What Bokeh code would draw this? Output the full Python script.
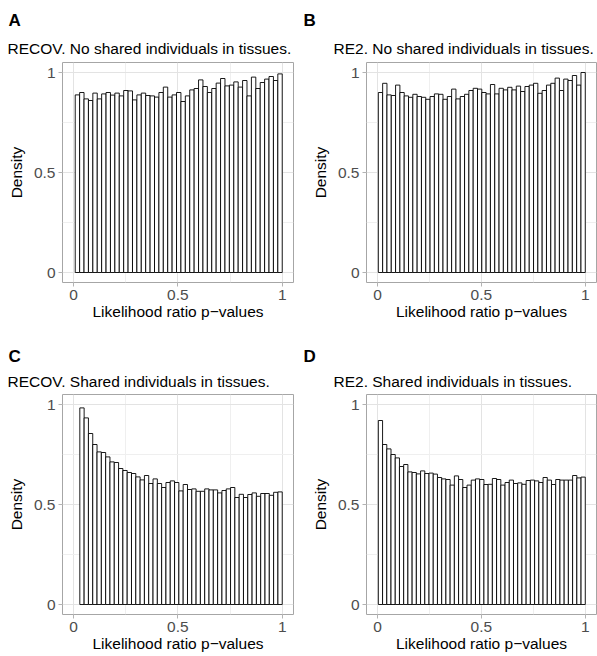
from bokeh.plotting import figure
from bokeh.models import Title, FixedTicker, CustomJSTickFormatter, Range1d
from bokeh.layouts import row, column
from bokeh.embed import file_html
from bokeh.resources import INLINE
import numpy as np

# ---- data (bar heights) ----
letters = ["A", "B", "C", "D"]
titles = [
    "RECOV. No shared individuals in tissues.",
    "RE2. No shared individuals in tissues.",
    "RECOV. Shared individuals in tissues.",
    "RE2. Shared individuals in tissues.",
]
bin_start_a = 0.008
density_a = [0.888, 0.90, 0.868, 0.86, 0.897, 0.868, 0.893, 0.90, 0.887, 0.897, 0.883,
             0.91, 0.908, 0.863, 0.888, 0.897, 0.885, 0.883, 0.877, 0.90, 0.927, 0.877,
             0.888, 0.90, 0.855, 0.883, 0.913, 0.92, 0.963, 0.93, 0.90, 0.92, 0.947,
             0.97, 0.933, 0.937, 0.953, 0.927, 0.96, 0.883, 0.977, 0.92, 0.95, 0.967,
             0.98, 0.96, 0.993]
bin_start_b = 0.004
density_b = [0.90, 0.946, 0.888, 0.885, 0.937, 0.90, 0.883, 0.876, 0.891, 0.88, 0.876,
             0.866, 0.88, 0.893, 0.891, 0.866, 0.88, 0.917, 0.868, 0.88, 0.891, 0.91,
             0.921, 0.917, 0.90, 0.893, 0.94, 0.893, 0.921, 0.913, 0.926, 0.913, 0.932,
             0.905, 0.930, 0.937, 0.946, 0.896, 0.91, 0.937, 0.946, 0.972, 0.91, 0.967,
             0.96, 0.985, 0.937, 1.0]
bin_start_c = 0.03
density_c = [0.983, 0.933, 0.855, 0.80, 0.763, 0.76, 0.738, 0.713, 0.71, 0.68, 0.67,
             0.66, 0.655, 0.638, 0.623, 0.645, 0.605, 0.628, 0.605, 0.585, 0.61, 0.618,
             0.61, 0.568, 0.60, 0.575, 0.578, 0.566, 0.566, 0.578, 0.573, 0.573, 0.558,
             0.57, 0.578, 0.585, 0.535, 0.551, 0.535, 0.55, 0.558, 0.541, 0.555, 0.555,
             0.546, 0.561, 0.563]
bin_start_d = 0.004
density_d = [0.92, 0.80, 0.778, 0.75, 0.733, 0.69, 0.70, 0.663, 0.66, 0.653, 0.668,
             0.655, 0.657, 0.652, 0.635, 0.628, 0.625, 0.597, 0.643, 0.625, 0.585, 0.597,
             0.622, 0.628, 0.625, 0.60, 0.601, 0.63, 0.625, 0.597, 0.61, 0.622, 0.605,
             0.608, 0.601, 0.62, 0.622, 0.618, 0.61, 0.635, 0.622, 0.60, 0.625, 0.622,
             0.622, 0.622, 0.645, 0.633, 0.637]
bin_end = 1.0
axis_ticks = [0, 0.5, 1]
minor_ticks = [0.25, 0.75]
x_label = "Likelihood ratio p\u2212values"
y_label = "Density"

FONT = "Liberation Sans"


def make_panel(letter, title, values, start, width, height, bl, br, bt, bb,
               off_title, off_letter, so_title, so_letter):
    p = figure(width=width, height=height, output_backend="svg", toolbar_location=None,
               x_range=Range1d(-0.053, 1.054), y_range=Range1d(-0.05, 1.05),
               min_border_left=bl, min_border_right=br, min_border_top=bt,
               min_border_bottom=bb)
    p.add_layout(Title(text=title, align="left", offset=off_title, standoff=so_title,
                       text_font=FONT, text_font_size="15.5px",
                       text_font_style="normal", text_color="black"), "above")
    p.add_layout(Title(text=letter, align="left", offset=off_letter, standoff=so_letter,
                       text_font=FONT, text_font_size="17px",
                       text_font_style="bold", text_color="black"), "above")
    edges = np.linspace(start, bin_end, len(values) + 1)
    p.quad(left=edges[:-1], right=edges[1:], bottom=0, top=values,
           fill_color="white", line_color="black", line_width=0.9)
    fmt = CustomJSTickFormatter(code="return String(tick);")
    for ax, lab in ((p.xaxis[0], x_label), (p.yaxis[0], y_label)):
        ax.ticker = FixedTicker(ticks=axis_ticks, minor_ticks=minor_ticks)
        ax.formatter = fmt
        ax.axis_line_color = None
        ax.major_tick_line_color = "#B3B3B3"
        ax.major_tick_out = 4
        ax.major_tick_in = 0
        ax.minor_tick_line_color = None
        ax.major_label_text_color = "#4D4D4D"
        ax.major_label_text_font = FONT
        ax.major_label_text_font_size = "15.5px"
        ax.major_label_standoff = 3
        ax.axis_label = lab
        ax.axis_label_text_font = FONT
        ax.axis_label_text_font_size = "15.5px"
        ax.axis_label_text_font_style = "normal"
        ax.axis_label_text_color = "black"
    p.xaxis[0].axis_label_standoff = 0
    p.yaxis[0].axis_label_standoff = 6
    for g in (p.xgrid[0], p.ygrid[0]):
        g.ticker = FixedTicker(ticks=axis_ticks, minor_ticks=minor_ticks)
        g.grid_line_color = "#E3E3E3"
        g.grid_line_width = 1
        g.minor_grid_line_color = "#EFEFEF"
        g.minor_grid_line_width = 1
    p.outline_line_color = "#A6A6A6"
    p.outline_line_width = 1
    p.background_fill_color = "white"
    p.border_fill_color = "white"
    return p


pa = make_panel(letters[0], titles[0], density_a, bin_start_a, 300, 330, 62, 7, 62, 48,
                -55, -54, 12, 4)
pb = make_panel(letters[1], titles[1], density_b, bin_start_b, 297, 330, 66, 1, 62, 48,
                -33, -63, 12, 4)
pc = make_panel(letters[2], titles[2], density_c, bin_start_c, 300, 326, 62, 7, 64, 42,
                -55, -54, 10, 0)
pd = make_panel(letters[3], titles[3], density_d, bin_start_d, 297, 326, 66, 1, 64, 42,
                -33, -63, 10, 0)

layout = column(row(pa, pb), row(pc, pd))
open("out.html", "w").write(file_html(layout, INLINE))
